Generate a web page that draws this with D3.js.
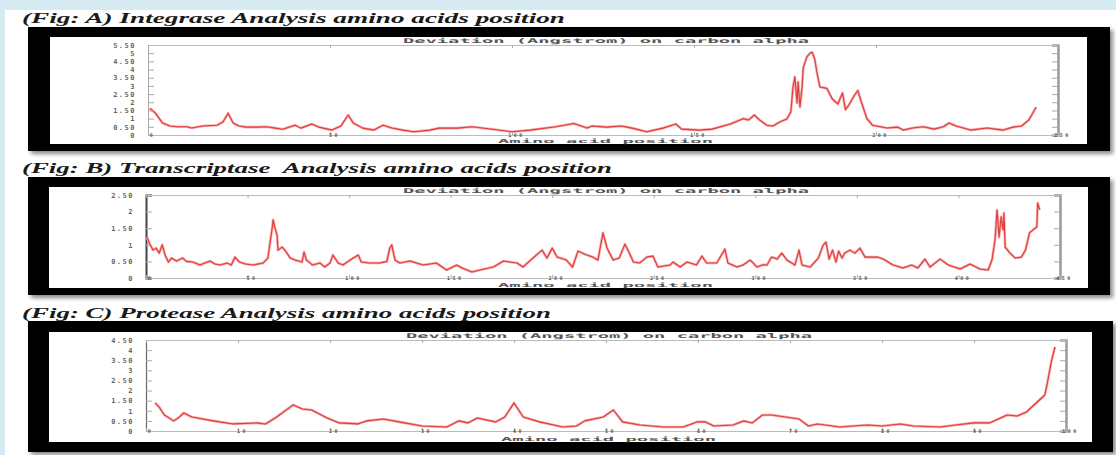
<!DOCTYPE html>
<html lang="en">
<head>
<meta charset="UTF-8">
<title>Deviation on carbon alpha</title>
<script src="https://d3js.org/d3.v7.min.js"></script>
<style>
  html, body { margin: 0; padding: 0; background: #d6ebf2; }
  svg { display: block; }
</style>
</head>
<body>
<script>

// values: [amino acid position, deviation]
const integrase = [
  [0.5,1.63],[2,1.35],[4,0.73],[6,0.55],[8,0.5],[10.7,0.5],[12,0.43],[15,0.55],[19,0.6],[20.6,0.8],
  [22,1.33],[23.4,0.73],[25,0.55],[27,0.48],[30,0.48],[32.6,0.5],[35,0.42],[37,0.35],[40.4,0.6],[42,0.42],
  [45,0.67],[47,0.48],[50.5,0.3],[53,0.55],[55,1.22],[56.4,0.73],[59,0.42],[62,0.3],[64.6,0.6],[67,0.43],
  [70,0.3],[73,0.2],[77.5,0.3],[80,0.42],[85,0.42],[89,0.5],[94,0.37],[100,0.2],[105,0.3],[112,0.5],
  [117,0.7],[120.6,0.43],[122,0.55],[126,0.48],[130,0.55],[133,0.42],[137,0.2],[141.5,0.42],[145,0.67],[146.6,0.36],
  [151.6,0.3],[155,0.36],[160,0.67],[163.5,1.0],[165,0.92],[166.6,1.22],[168,0.92],[170,0.6],[171.7,0.55],[173.6,0.8],
  [175.5,0.98],[176.6,1.4],[177.2,2.93],[177.7,3.55],[178.3,1.96],[178.6,3.24],[179.1,1.71],[179.7,2.93],[180,4.1],[181,4.77],
  [181.9,5.01],[182.5,5.05],[183.2,4.6],[183.8,3.79],[184.6,2.93],[186.5,2.85],[188,2.2],[189.5,1.9],[190.8,2.57],[191.6,1.55],
  [192.6,1.85],[194,2.4],[195,2.72],[196,2.0],[197.5,1.0],[199,0.6],[203,0.43],[206,0.48],[207.5,0.3],[210,0.43],
  [213,0.5],[216,0.36],[218.5,0.5],[220,0.73],[222,0.55],[226,0.3],[230.5,0.43],[235,0.3],[237.6,0.48],[240,0.55],
  [242,0.92],[244,1.7]
];

const transcriptase = [
  [0.5,1.23],[2,1.0],[3.5,0.84],[5,0.9],[6.5,0.75],[8,1.0],[9.4,0.69],[11,0.48],[12.6,0.6],[15,0.51],
  [18,0.6],[20,0.5],[23,0.48],[26.6,0.39],[29,0.45],[31.5,0.51],[34,0.42],[36.4,0.39],[40,0.45],[42,0.39],
  [43.8,0.63],[46,0.48],[49,0.42],[52.7,0.39],[57.6,0.45],[60,0.6],[62,1.45],[62.6,1.75],[63.5,1.5],[64.5,1.3],
  [65,0.84],[67,0.93],[68.4,0.84],[71,0.6],[73.4,0.54],[76.8,0.48],[77.8,0.78],[79,0.54],[82,0.39],[85.7,0.45],
  [88,0.33],[90.6,0.45],[92,0.69],[94.6,0.45],[97,0.39],[100.4,0.54],[104.5,0.69],[106,0.48],[110,0.45],[115,0.45],
  [118.6,0.5],[120,0.9],[121,1.0],[122.6,0.54],[125,0.45],[130,0.51],[136.4,0.39],[143,0.45],[148,0.24],[153,0.39],
  [155.6,0.3],[160.5,0.18],[164.4,0.24],[171,0.33],[176,0.51],[182.7,0.45],[185.6,0.33],[190.5,0.6],[195,0.84],[197.4,0.6],
  [200,0.9],[202.4,0.63],[207,0.54],[210,0.33],[212.7,0.81],[217,0.69],[220,0.63],[222.5,0.54],[225,1.36],[227,0.9],
  [230,0.54],[233,0.6],[235.8,1.02],[237.3,0.84],[240,0.48],[243,0.45],[246.6,0.63],[249.6,0.66],[252,0.33],[258,0.39],
  [259.5,0.48],[263,0.33],[266.4,0.48],[271,0.39],[273.7,0.66],[276,0.45],[281,0.45],[285,0.87],[286.5,0.45],[291,0.33],
  [294,0.39],[297.4,0.54],[299,0.45],[300.8,0.33],[303.8,0.4],[305.7,0.39],[308,0.63],[310.7,0.57],[313,0.75],[315.6,0.54],
  [319.5,0.39],[321.5,0.84],[323,0.39],[327,0.33],[331,0.6],[333.4,0.99],[334.8,1.08],[336.3,0.57],[338,0.84],[339.7,0.48],
  [341,0.81],[342.7,0.6],[344,0.75],[346.6,0.84],[349,0.75],[351.5,0.9],[354,0.63],[356.5,0.63],[360,0.63],[363,0.57],
  [367.8,0.39],[372.7,0.3],[377,0.39],[380,0.3],[383.5,0.57],[386,0.33],[391,0.57],[395,0.39],[400.8,0.27],[405.7,0.42],
  [410.6,0.27],[414.6,0.24],[416.5,0.54],[418,1.14],[419,2.05],[420,1.23],[421,1.84],[422,1.45],[422.4,1.96],[423,0.93],
  [425.4,0.75],[428,0.6],[431,0.63],[433,0.84],[435,1.36],[436.7,1.45],[438.6,1.54],[439,2.26],[440,2.05]
];

const protease = [
  [1,1.39],[1.5,1.14],[2,0.79],[3,0.5],[3.5,0.64],[4.1,0.89],[5,0.69],[7.3,0.5],[9.5,0.35],[12,0.4],
  [13,0.35],[14.2,0.69],[16,1.29],[17,1.09],[18,1.04],[19.7,0.64],[21,0.4],[23,0.35],[24,0.5],[25.8,0.59],
  [27.5,0.45],[30,0.25],[32.7,0.2],[34,0.5],[35,0.4],[36,0.64],[38,0.45],[39,0.69],[40,1.39],[41,0.69],
  [42.8,0.45],[45.3,0.2],[46.8,0.25],[47.7,0.5],[49.7,0.69],[50.8,1.04],[51.8,0.45],[53.7,0.3],[56.2,0.2],[58.4,0.2],
  [59.9,0.45],[60.8,0.45],[61.7,0.25],[63.8,0.3],[65,0.5],[65.9,0.4],[67,0.79],[68,0.79],[71,0.59],[72,0.25],
  [73,0.35],[75.4,0.2],[78.4,0.3],[80,0.25],[82,0.35],[83.4,0.25],[86.3,0.2],[88,0.3],[90,0.4],[91.7,0.4],
  [93.6,0.79],[94.7,0.74],[95.7,0.94],[97.7,1.78],[98,2.43],[98.4,3.42],[98.8,4.16]
];

// tick values
const xTicksA = [0, 50, 100, 150, 200, 250];
const xTicksB = [0, 50, 100, 150, 200, 250, 300, 350, 400, 450];
const xTicksC = [0, 10, 20, 30, 40, 50, 60, 70, 80, 90, 100];
const yTicksA = d3.range(0, 5.51, 0.5);
const yTicksB = d3.range(0, 2.51, 0.5);
const yTicksC = d3.range(0, 4.51, 0.5);

const plotTitle = 'Deviation (Angstrom) on carbon alpha';
const xTitle = 'Amino acid position';

const panels = [
  { title: '(Fig: A) Integrase Analysis amino acids position', tx: 22, ty: 23, tw: 543,
    frame: [28, 27, 1110, 151], inner: [50, 37, 1087, 144], plot: [148, 45, 1058, 135],
    xMax: 250, yMax: 5.5, data: integrase, xTicks: xTicksA, yTicks: yTicksA, leftAxis: '#aaa', leftW: 1 },
  { title: '(Fig: B) Transcriptase\u00a0 Analysis amino acids position', tx: 22, ty: 173, tw: 590,
    frame: [28, 177, 1110, 295], inner: [49, 187, 1088, 288], plot: [146, 195, 1060, 278],
    xMax: 450, yMax: 2.5, data: transcriptase, xTicks: xTicksB, yTicks: yTicksB, leftAxis: '#444', leftW: 2 },
  { title: '(Fig: C) Protease Analysis amino acids position', tx: 22, ty: 318, tw: 529,
    frame: [28, 321, 1113, 452], inner: [49, 332, 1092, 442], plot: [146, 340, 1066, 431],
    xMax: 100, yMax: 4.5, data: protease, xTicks: xTicksC, yTicks: yTicksC, leftAxis: '#666', leftW: 1.2 }
];

const W = 1116, H = 455;
const svg = d3.select('body').append('svg').attr('width', W).attr('height', H);

const defs = svg.append('defs');
defs.append('filter').attr('id', 'shadow').attr('x', '-5%').attr('y', '-20%').attr('width', '110%').attr('height', '140%')
  .append('feGaussianBlur').attr('stdDeviation', 2);

// page
svg.append('rect').attr('x', 5).attr('y', 10).attr('width', W - 5).attr('height', H - 10).attr('fill', '#fff');

const labelFont = '"DejaVu Sans Mono", monospace';
const fmt = v => Number.isInteger(v) ? d3.format('d')(v) : d3.format('.2f')(v);

panels.forEach(p => {
  const [fx0, fy0, fx1, fy1] = p.frame;
  const [ix0, iy0, ix1, iy1] = p.inner;
  const [px0, py0, px1, py1] = p.plot;

  svg.append('text')
    .attr('x', p.tx).attr('y', p.ty)
    .attr('textLength', p.tw).attr('lengthAdjust', 'spacingAndGlyphs')
    .style('font-family', '"Liberation Serif", "DejaVu Serif", serif')
    .style('font-weight', 'bold').style('font-style', 'italic')
    .style('font-size', '15px').attr('fill', '#1a1a1a')
    .text(p.title);

  // frame with soft shadow
  svg.append('rect').attr('x', fx0 + 3).attr('y', fy0 + 3).attr('width', fx1 - fx0).attr('height', fy1 - fy0)
    .attr('fill', '#8a8a8a').attr('filter', 'url(#shadow)');
  svg.append('rect').attr('x', fx0).attr('y', fy0).attr('width', fx1 - fx0).attr('height', fy1 - fy0).attr('fill', '#000');
  svg.append('rect').attr('x', ix0).attr('y', iy0).attr('width', ix1 - ix0).attr('height', iy1 - iy0).attr('fill', '#fff');

  const x = d3.scaleLinear().domain([0, p.xMax]).range([px0, px1]);
  const y = d3.scaleLinear().domain([0, p.yMax]).range([py1, py0]);

  const g = svg.append('g');

  // left axis, ticks pointing inside
  const gl = g.append('g').attr('transform', `translate(${px0},0)`)
    .call(d3.axisLeft(y).tickValues(p.yTicks).tickSize(-6).tickPadding(12).tickFormat(fmt));
  gl.select('.domain').attr('stroke', p.leftAxis).attr('stroke-width', p.leftW);

  // right axis
  const gr = g.append('g').attr('transform', `translate(${px1},0)`)
    .call(d3.axisRight(y).tickValues(p.yTicks).tickSize(-6).tickFormat(''));
  gr.select('.domain').attr('stroke', '#999').attr('stroke-width', 2.5);

  // bottom axis, labels sitting right on the axis line
  const gb = g.append('g').attr('transform', `translate(0,${py1})`)
    .call(d3.axisBottom(x).tickValues(p.xTicks).tickSize(-3).tickPadding(0).tickFormat(d3.format('d')));
  gb.select('.domain').attr('stroke', '#bbb');

  // top axis
  const gt = g.append('g').attr('transform', `translate(0,${py0})`)
    .call(d3.axisTop(x).tickValues(p.xTicks).tickSize(-3).tickFormat(''));
  gt.select('.domain').attr('stroke', '#bbb');

  g.selectAll('.tick line').attr('stroke', '#aaa');
  gl.selectAll('.tick text')
    .style('font-family', labelFont).style('font-weight', 'bold')
    .style('font-size', '7px').style('letter-spacing', '1.5px').attr('fill', '#666');
  gb.selectAll('.tick text')
    .style('font-family', labelFont).style('font-weight', 'bold')
    .style('font-size', '5px').style('letter-spacing', '2.5px').attr('fill', '#555')
    .attr('y', 0).attr('dy', '0.45em').attr('dx', 4);

  // plot title and axis caption
  const cx = (px0 + px1) / 2;
  g.append('text').attr('x', cx - 200).attr('y', py0 - 2.5)
    .attr('textLength', 406).attr('lengthAdjust', 'spacingAndGlyphs')
    .style('font-family', labelFont).style('font-weight', 'bold').style('font-size', '6.5px')
    .attr('fill', '#555').text(plotTitle);
  g.append('text').attr('x', cx - 105).attr('y', iy1 - 0.6)
    .attr('textLength', 215).attr('lengthAdjust', 'spacingAndGlyphs')
    .style('font-family', labelFont).style('font-weight', 'bold').style('font-size', '5.5px')
    .attr('fill', '#555').text(xTitle);

  const line = d3.line().x(d => x(d[0])).y(d => y(d[1]));
  g.append('path').datum(p.data).attr('d', line)
    .attr('fill', 'none').attr('stroke', '#f6a8a8').attr('stroke-width', 2.6).attr('stroke-linejoin', 'round');
  g.append('path').datum(p.data).attr('d', line)
    .attr('fill', 'none').attr('stroke', '#e23b3b').attr('stroke-width', 1.1).attr('stroke-linejoin', 'round');
});

</script>
</body>
</html>
